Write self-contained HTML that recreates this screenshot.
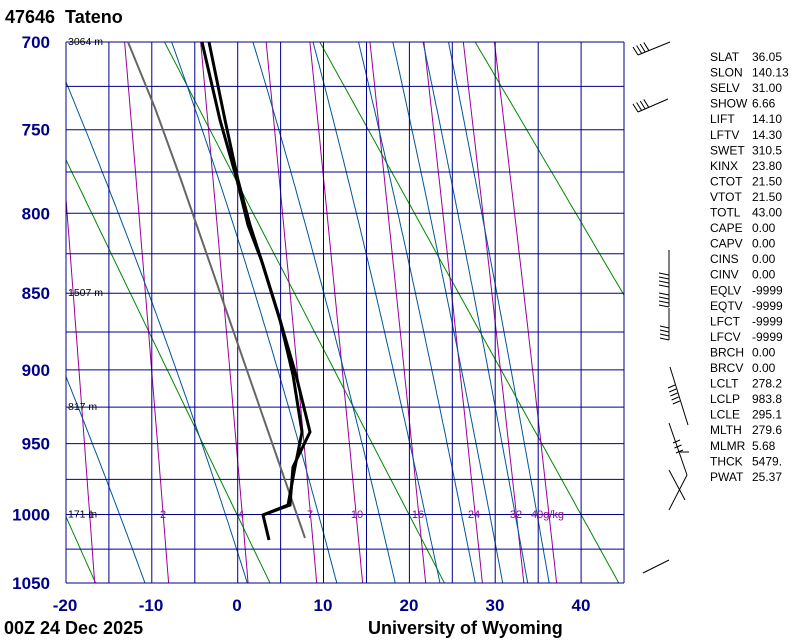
<!DOCTYPE html>
<html><head><meta charset="utf-8"><style>
body{margin:0;background:#fff;width:800px;height:640px;overflow:hidden}
svg{display:block}
</style></head><body>
<svg id="s" width="800" height="640" xmlns="http://www.w3.org/2000/svg" font-family="Liberation Sans, sans-serif"></svg>
<script>
var s=document.getElementById('s');var out='';
var K=0.286,p0=Math.pow(700,K),p1=Math.pow(1050,K);
function Y(p){return 42+(Math.pow(p,K)-p0)/(p1-p0)*541;}
function X(t){return 237+8.6*t;}
function clipLine(pts,col,w){var d='';pts.forEach(function(q,i){d+=(i?'L':'M')+q[0].toFixed(1)+','+q[1].toFixed(1);});
out+='<path d="'+d+'" fill="none" stroke="'+col+'" stroke-width="'+w+'"/>';}
out+='<defs><clipPath id="c"><rect x="66" y="42" width="558" height="541"/></clipPath></defs><g clip-path="url(#c)">';
for(var th=213.15;th<=433.15;th+=20){var pts=[];for(var p=700;p<=1050;p+=5){pts.push([X(th*Math.pow(p/1000,K)-273.15),Y(p)]);}clipLine(pts,'#008800',1);}
[0.4,1,2,4,7,10,16,24,32,40].forEach(function(w){var pts=[];for(var p=700;p<=1050;p+=5){var e=w*p/(622+w);var l=Math.log(e/6.112);var td=243.5*l/(17.67-l);pts.push([X(td),Y(p)]);}clipLine(pts,'#990099',1);});
function es(T){return 6.112*Math.exp(17.67*(T-273.15)/(T-29.65));}
[-22,-10.7,1.2,11.6,18.4,23.6,27.7,30.9,33.8,36.3].forEach(function(t0){var T=t0+273.15,pts=[[X(t0),Y(1050)]];for(var p=1050;p>650;p-=2){var rs=0.622*es(T)/(p-es(T));var L=2.5e6,Rd=287,cp=1004;var dT=(Rd*T+L*rs)/(p*(cp+L*L*rs*0.622/(Rd*T*T)));T-=dT*2;pts.push([X(T-273.15),Y(p-2)]);}clipLine(pts,'#00559a',1);});
out+='</g>';
for(var i=0;i<=13;i++){var x=66+i*(558/13);out+='<line x1="'+x.toFixed(1)+'" y1="42" x2="'+x.toFixed(1)+'" y2="583" stroke="#000088" stroke-width="1"/>';}
for(var p=700;p<=1050;p+=25){var y=Y(p).toFixed(1);out+='<line x1="66" y1="'+y+'" x2="624" y2="'+y+'" stroke="#000088" stroke-width="1"/>';}
[[1,91],[2,163],[4,241],[7,310],[10,357],[16,418],[24,474],[32,516]].forEach(function(a){out+='<text x="'+a[1]+'" y="518" font-size="11" fill="#990099" text-anchor="middle">'+a[0]+'</text>';});
out+='<text x="531" y="518" font-size="11" fill="#990099">40g/kg</text>';
[['3064 m',700],['1507 m',850],['817 m',925],['171 m',1000]].forEach(function(a){out+='<text x="68" y="'+(Y(a[1])+3)+'" font-size="10.5" fill="#000">'+a[0]+'</text>';});
clipLine([[128,42],[155,108],[180,177],[305,538]],'#666666',2);
clipLine([[209,42],[225,120],[238,180],[250,225],[262,262],[280,320],[296,375],[310,432],[293,467],[290,505],[263,515],[269,540]],'#000',3);
clipLine([[202,42],[220,120],[237,180],[248,225],[262,262],[280,320],[293,375],[302,432],[295,467],[288,505],[263,515]],'#000',3);
[700,750,800,850,900,950,1000,1050].forEach(function(p){out+='<text x="50" y="'+(Y(p)+6).toFixed(1)+'" font-size="17" font-weight="bold" fill="#000088" text-anchor="end">'+p+'</text>';});
[-20,-10,0,10,20,30,40].forEach(function(t){out+='<text x="'+X(t)+'" y="611" font-size="17" font-weight="bold" fill="#000088" text-anchor="middle">'+t+'</text>';});
out+='<text x="5" y="23" font-size="18" font-weight="bold" xml:space="preserve">47646  Tateno</text>';
out+='<text x="4" y="634" font-size="18" font-weight="bold">00Z 24 Dec 2025</text>';
out+='<text x="368" y="634" font-size="18" font-weight="bold">University of Wyoming</text>';
var B=[[670,42,638,55],[668,99,638,112],[669,250,669,287],[669,285,669,307],[669,308,669,340],
[670,367,688,425],[669,423,687,475],[689,452,680,452],[687,475,669,510],[669,470,685,500],[643,573,669,560]];
B.forEach(function(b){out+='<line x1="'+b[0]+'" y1="'+b[1]+'" x2="'+b[2]+'" y2="'+b[3]+'" stroke="#000" stroke-width="1"/>';});
function ticks(x0,y0,dx,dy,tx,ty,n,sp){for(var k=0;k<n;k++){var x=x0+dx*k*sp,y=y0+dy*k*sp;out+='<line x1="'+x+'" y1="'+y+'" x2="'+(x+tx)+'" y2="'+(y+ty)+'" stroke="#000"/>';}}
ticks(638,55,0.9,-0.38,-5,-8,4,4);ticks(638,112,0.9,-0.38,-5,-8,4,4);
ticks(669,287,0,-1,-10,-2,4,4);ticks(669,307,0,-1,-10,-2,4,4);ticks(669,340,0,-1,-9,-2,4,4);
ticks(675,385,0.3,1,-7,3,5,4);ticks(680,440,0.3,1,-7,3,3,5);
var st=[['SLAT','36.05'],['SLON','140.13'],['SELV','31.00'],['SHOW','6.66'],['LIFT','14.10'],['LFTV','14.30'],['SWET','310.5'],['KINX','23.80'],['CTOT','21.50'],['VTOT','21.50'],['TOTL','43.00'],['CAPE','0.00'],['CAPV','0.00'],['CINS','0.00'],['CINV','0.00'],['EQLV','-9999'],['EQTV','-9999'],['LFCT','-9999'],['LFCV','-9999'],['BRCH','0.00'],['BRCV','0.00'],['LCLT','278.2'],['LCLP','983.8'],['LCLE','295.1'],['MLTH','279.6'],['MLMR','5.68'],['THCK','5479.'],['PWAT','25.37']];
st.forEach(function(a,i){var y=61+i*15.55;out+='<text x="710" y="'+y.toFixed(1)+'" font-size="12">'+a[0]+'</text><text x="752" y="'+y.toFixed(1)+'" font-size="12">'+a[1]+'</text>';});
s.innerHTML=out;
</script>
</body></html>
